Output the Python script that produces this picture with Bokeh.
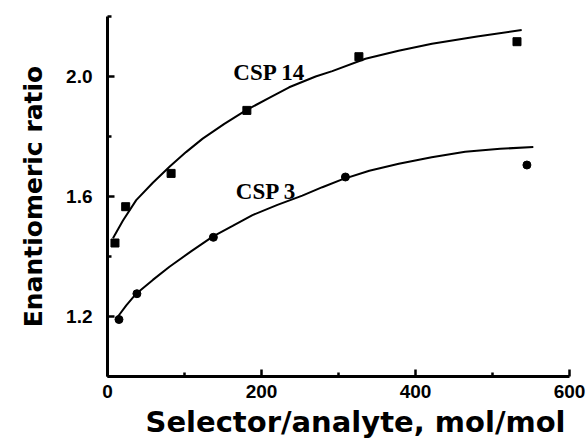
from bokeh.plotting import figure
from bokeh.models import FixedTicker, Label, Range1d, Title
from bokeh.embed import file_html
from bokeh.resources import INLINE

# Measured points
csp14_x = [9.7, 23.6, 82.6, 181.0, 326.5, 531.8]
csp14_y = [1.445, 1.566, 1.677, 1.887, 2.066, 2.116]
csp3_x = [14.9, 38.2, 137.5, 309.0, 544.7]
csp3_y = [1.190, 1.276, 1.464, 1.665, 1.705]

# Fitted curves
fit14_x = [7.1, 20.1, 37.3, 58.9, 80.5, 102.0, 123.6, 151.7, 179.7, 210.0, 235.9,
           270.3, 291.9, 335.0, 378.0, 421.4, 480.0, 537.9]
fit14_y = [1.461, 1.520, 1.588, 1.646, 1.699, 1.748, 1.793, 1.842, 1.887, 1.929, 1.964,
           2.000, 2.018, 2.059, 2.086, 2.109, 2.133, 2.155]
fit3_x = [13.6, 24.4, 37.3, 58.9, 80.5, 108.5, 136.6, 162.5, 188.3, 220.7, 253.0,
          279.0, 304.8, 340.0, 378.3, 421.0, 464.5, 510.0, 553.0]
fit3_y = [1.200, 1.237, 1.276, 1.322, 1.366, 1.417, 1.466, 1.502, 1.538, 1.572, 1.603,
          1.631, 1.657, 1.686, 1.709, 1.731, 1.749, 1.759, 1.765]

x_major = [0, 200, 400, 600]
x_minor = [100, 300, 500]
y_major = [1.2, 1.6, 2.0]
y_minor = [1.0, 1.4, 1.8, 2.2]

x_title = "Selector/analyte, mol/mol"
y_title = "Enantiomeric ratio"

p = figure(width=587, height=441, x_range=Range1d(0, 600), y_range=Range1d(1.0, 2.2),
           output_backend="svg", toolbar_location=None,
           min_border_left=105, min_border_right=18, min_border_top=16, min_border_bottom=65)
p.outline_line_color = None
p.xgrid.visible = False
p.ygrid.visible = False
p.background_fill_color = "white"

for ax in (p.xaxis[0], p.yaxis[0]):
    ax.axis_line_width = 3
    ax.axis_line_color = "black"
    ax.major_tick_in = 7
    ax.major_tick_out = 0
    ax.minor_tick_in = 4
    ax.minor_tick_out = 0
    ax.major_tick_line_width = 2.5
    ax.minor_tick_line_width = 2.5
    ax.major_label_text_font = "Liberation Sans"
    ax.major_label_text_font_style = "bold"
    ax.major_label_text_font_size = "19px"
    ax.major_label_text_color = "black"

p.xaxis[0].ticker = FixedTicker(ticks=x_major, minor_ticks=x_minor)
p.yaxis[0].ticker = FixedTicker(ticks=y_major, minor_ticks=y_minor)
p.xaxis[0].major_label_standoff = 8
p.yaxis[0].major_label_standoff = 15
p.xaxis[0].major_label_overrides = {0: "0", 200: "200", 400: "400", 600: "600"}
p.yaxis[0].major_label_overrides = {1.2: "1.2", 1.6: "1.6", 2.0: "2.0"}

p.line(fit14_x, fit14_y, line_color="black", line_width=2)
p.line(fit3_x, fit3_y, line_color="black", line_width=2)
p.scatter(csp14_x, csp14_y, marker="square", size=8, color="black")
p.scatter(csp3_x, csp3_y, marker="circle", size=8, color="black")

p.add_layout(Label(x=163.4, y=2.014, text="CSP 14", text_font="Liberation Serif",
                   text_font_style="bold", text_font_size="23px", text_color="black",
                   text_baseline="alphabetic"))
p.add_layout(Label(x=166.7, y=1.616, text="CSP 3", text_font="Liberation Serif",
                   text_font_style="bold", text_font_size="23px", text_color="black",
                   text_baseline="alphabetic"))

p.add_layout(Title(text=x_title, text_font="DejaVu Sans", text_font_style="bold",
                   text_font_size="29px", text_color="black", align="left",
                   offset=38, standoff=5), "below")
p.add_layout(Title(text=y_title, text_font="DejaVu Sans", text_font_style="bold",
                   text_font_size="25px", text_color="black", align="center",
                   offset=13, standoff=32), "left")

open("out.html", "w").write(file_html(p, INLINE))
